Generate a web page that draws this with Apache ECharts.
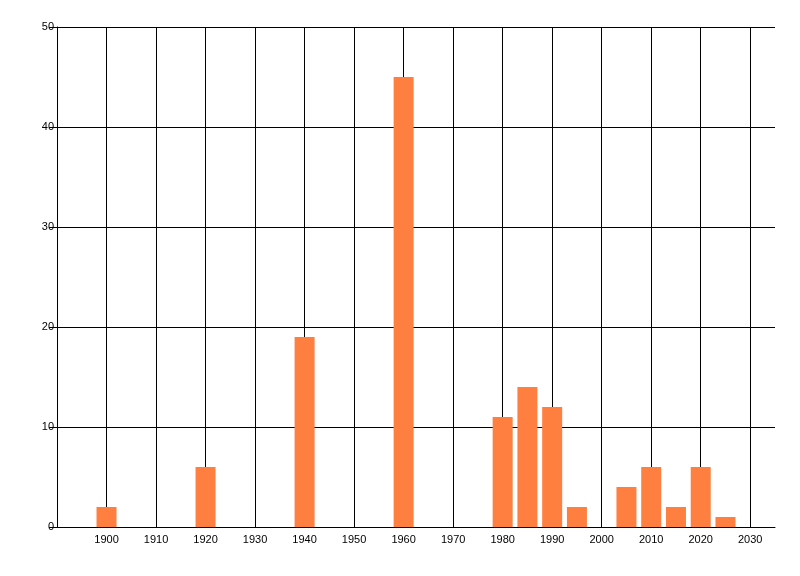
<!DOCTYPE html>
<html>
<head>
<meta charset="utf-8">
<script src="https://cdn.jsdelivr.net/npm/echarts@6/dist/echarts.min.js"></script>
<style>
    html, body { margin: 0; padding: 0; background: #fff; }
    #chart { width: 800px; height: 576px; }
</style>
</head>
<body>
<div id="chart"></div>
<script>
const years = [1900, 1920, 1940, 1960, 1980, 1985, 1990, 1995, 2005, 2010, 2015, 2020, 2025];
const counts = [2, 6, 19, 45, 11, 14, 12, 2, 4, 6, 2, 6, 1];

const chart = echarts.init(document.getElementById('chart'));

chart.setOption({
    animation: false,
    grid: { left: 57, top: 27, right: 25, bottom: 49 },
    xAxis: {
        type: 'value',
        min: 1890,
        max: 2035,
        interval: 10,
        axisLine: { show: true, lineStyle: { color: '#000', width: 1 } },
        axisTick: { show: false },
        axisLabel: {
            color: '#000',
            fontFamily: 'Liberation Sans',
            fontSize: 11,
            margin: 7,
            showMinLabel: false,
            showMaxLabel: false,
            formatter: (v) => (v % 10 === 0 ? String(v) : '')
        },
        splitLine: {
            show: true,
            showMinLine: false,
            showMaxLine: false,
            lineStyle: { color: '#000', width: 1 }
        }
    },
    yAxis: {
        type: 'value',
        min: 0,
        max: 50,
        interval: 10,
        axisLine: { show: true, lineStyle: { color: '#000', width: 1 } },
        axisTick: { show: true, length: 8, lineStyle: { color: '#000' } },
        axisLabel: {
            color: '#000',
            fontFamily: 'Liberation Sans',
            fontSize: 11,
            margin: 3
        },
        splitLine: { show: true, lineStyle: { color: '#000', width: 1 } }
    },
    series: [{
        type: 'bar',
        data: years.map((y, i) => [y, counts[i]]),
        barWidth: 20,
        itemStyle: { color: '#ff7f40' }
    }]
});
</script>
</body>
</html>
